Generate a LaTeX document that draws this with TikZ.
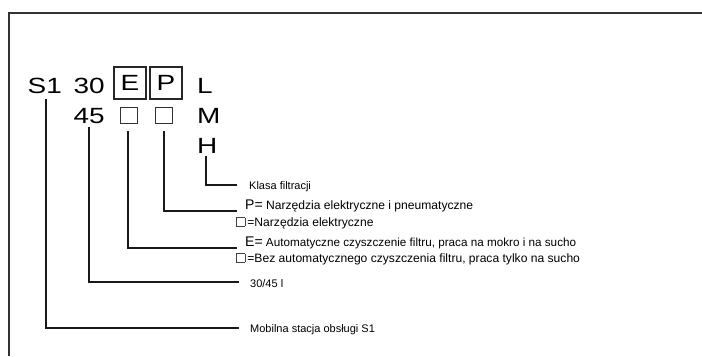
\documentclass[tikz,border=0pt]{standalone}
\usepackage{fontspec}
\usepackage{graphicx}
\setmainfont{Liberation Sans}
\newcommand\sqbox{{\setlength\fboxsep{0pt}\setlength\fboxrule{0.6bp}\color{black!75}\fbox{\rule{0pt}{8bp}\rule{8bp}{0pt}}}}
\newcommand\wide[1]{\scalebox{1.27}[1]{#1}}
\begin{document}
\begin{tikzpicture}[x=1bp,y=-1bp,
  big/.style={font=\fontsize{22bp}{24bp}\selectfont, inner sep=0pt},
  lbl/.style={font=\fontsize{11bp}{13bp}\selectfont, inner sep=0pt, anchor=base west},
  lblb/.style={font=\fontsize{12.1bp}{13bp}\selectfont, inner sep=0pt, anchor=base west},
  frame/.style={draw=black!80, line width=1.5bp},
  conn/.style={draw=black!90, line width=1.4bp},
  codebox/.style={draw=black!85, line width=1.1bp, minimum width=32bp, minimum height=32bp, inner sep=0pt},
  emptybox/.style={draw=black!80, line width=0.9bp, minimum width=17bp, minimum height=16bp, inner sep=0pt}]
\useasboundingbox (0,0) rectangle (702,356);
\draw[frame] (9,356) -- (9,13) -- (702,13);
% code
\node[big, anchor=base west] (s1) at (27.5,93) {\wide{S1}};
\node[big, anchor=base west] (n30) at (73.5,93) {\wide{30}};
\node[codebox] (bE) at (130,83) {\fontsize{22bp}{24bp}\selectfont\wide{E}};
\node[codebox] (bP) at (166,83) {\fontsize{22bp}{24bp}\selectfont\wide{P}};
\node[big, anchor=base west] (cL) at (197,93) {\wide{L}};
\node[big, anchor=base west] (n45) at (73.5,123) {\wide{45}};
\node[emptybox] (sq1) at (129,115.5) {};
\node[emptybox] (sq2) at (164,115.5) {};
\node[big, anchor=base west] (cM) at (197,123) {\wide{M}};
\node[big, anchor=base west] (cH) at (197,153) {\wide{H}};
% labels
\node[lbl] (tH) at (249,189) {Klasa filtracji};
\node[lblb] (tP1) at (245,209) {{\fontsize{14bp}{14bp}\selectfont P=} Narzędzia elektryczne i pneumatyczne};
\node[lblb] (tP2) at (236,226) {\sqbox\,=Narzędzia elektryczne};
\node[lblb, font=\fontsize{11.7bp}{13bp}\selectfont] (tE1) at (245,246) {{\fontsize{14bp}{14bp}\selectfont E=} Automatyczne czyszczenie filtru, praca na mokro i na sucho};
\node[lblb] (tE2) at (236,262) {\sqbox\,=Bez automatycznego czyszczenia filtru, praca tylko na sucho};
\node[lbl] (t45) at (250,287) {30/45 l};
\node[lbl] (tS1) at (250,332) {Mobilna stacja obsługi S1};
% connector ends
\coordinate (eH) at (237,185);
\coordinate (eP) at (237,211);
\coordinate (eE) at (237,248);
\coordinate (e45) at (239,282);
\coordinate (eS1) at (239,328);
\draw[conn] (cH.south -| 206,0) ++(0,3) |- (eH);
\draw[conn] (sq2.south) ++(0,7) |- (eP);
\draw[conn] (sq1.south) ++(-1,7) |- (eE);
\draw[conn] (n45.south -| 89,0) ++(0,4) |- (e45);
\draw[conn] (s1.south -| 46,0) ++(0,6) |- (eS1);
\end{tikzpicture}
\end{document}
